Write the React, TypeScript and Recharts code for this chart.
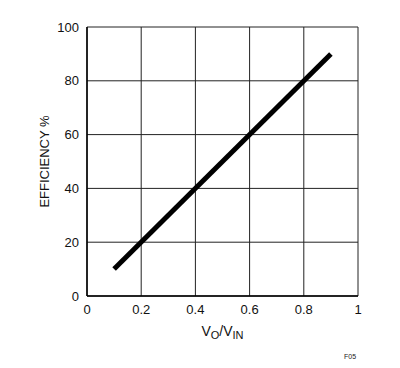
import React from 'react';
import { LineChart, Line, XAxis, YAxis, CartesianGrid } from 'recharts';

// values
const ratio = [0.1, 0.9];
const efficiency = [10, 90];
const xTicks = [0, 0.2, 0.4, 0.6, 0.8, 1];
const yTicks = [0, 20, 40, 60, 80, 100];

const data = ratio.map((r, i) => ({ r, eff: efficiency[i] }));

const font = '"Liberation Sans", Arial, sans-serif';

const YLabel = (props: any) => {
  const { viewBox } = props;
  const cx = 44;
  const cy = viewBox.y + viewBox.height / 2;
  return (
    <text x={cx} y={cy} transform={`rotate(-90 ${cx} ${cy})`} textAnchor="middle"
      dominantBaseline="central" fontSize={13} fill="#111" fontFamily={font}>
      EFFICIENCY %
    </text>
  );
};

const XLabel = (props: any) => {
  const { viewBox } = props;
  const cx = viewBox.x + viewBox.width / 2;
  return (
    <g>
      <text x={cx} y={336} textAnchor="middle" fontSize={14} fill="#111" fontFamily={font}>
        V<tspan fontSize={11} dy={3}>O</tspan>
        <tspan dy={-3}>/V</tspan>
        <tspan fontSize={11} dy={3}>IN</tspan>
      </text>
      <text x={350} y={359} textAnchor="middle" fontSize={7} fill="#222" fontFamily={font}>F05</text>
    </g>
  );
};

export default function App() {
  return (
    <div style={{ position: 'absolute', left: 0, top: 0, width: 400, height: 368, background: '#fff' }}>
      <LineChart width={400} height={368} data={data} margin={{ top: 27, right: 42, bottom: 0, left: 0 }}>
        <CartesianGrid stroke="#222" strokeWidth={1} />
        <XAxis
          type="number"
          dataKey="r"
          domain={[0, 1]}
          ticks={xTicks}
          tickFormatter={(v) => String(v)}
          tick={{ fill: '#111', fontSize: 13, fontFamily: font }}
          axisLine={{ stroke: '#000', strokeWidth: 1.5 }}
          tickLine={false}
          tickSize={0}
          tickMargin={9}
          height={72}
          label={<XLabel />}
        />
        <YAxis
          type="number"
          domain={[0, 100]}
          ticks={yTicks}
          tick={{ fill: '#111', fontSize: 13, fontFamily: font }}
          axisLine={{ stroke: '#000', strokeWidth: 1.5 }}
          tickLine={false}
          tickSize={0}
          tickMargin={8}
          width={87}
          label={<YLabel />}
        />
        <Line
          type="linear"
          dataKey="eff"
          stroke="#000"
          strokeWidth={5}
          dot={false}
          isAnimationActive={false}
        />
      </LineChart>
    </div>
  );
}
